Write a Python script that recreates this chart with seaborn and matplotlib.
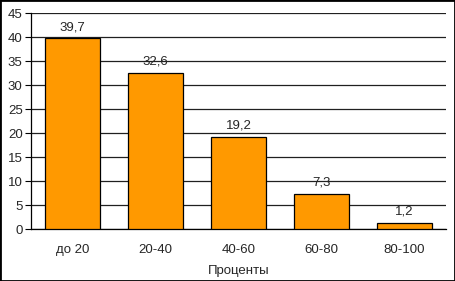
import matplotlib
matplotlib.use("Agg")
import matplotlib.pyplot as plt
import seaborn as sns
import pandas as pd
import numpy as np
from matplotlib.patches import Rectangle

categories = ["до 20", "20-40", "40-60", "60-80", "80-100"]
values = [39.7, 32.6, 19.2, 7.3, 1.2]
labels = ["39,7", "32,6", "19,2", "7,3", "1,2"]
yticks = [0, 5, 10, 15, 20, 25, 30, 35, 40, 45]

sns.set_style("white")
plt.rcParams['font.family'] = ['Liberation Sans', 'DejaVu Sans']

df = pd.DataFrame({"cat": categories, "val": values})

fig = plt.figure(figsize=(4.55, 2.81), dpi=100)
ax = fig.add_axes([31/455, 52/281, 415/455, 216/281])
sns.barplot(data=df, x="cat", y="val", color="#FF9900", edgecolor="black",
            linewidth=0.9, width=0.67, saturation=1, ax=ax, zorder=3)

ax.set_ylim(0, 45)
ax.set_xlim(-0.5, 4.5)
ax.set_yticks(yticks)
ax.set_yticklabels([str(t) for t in yticks], fontsize=9.5)
ax.yaxis.grid(True, color="#202020", linewidth=0.9, zorder=0)
ax.set_axisbelow(True)
ax.set_xticks(range(5))
ax.set_xticklabels(categories, fontsize=9.5)
ax.tick_params(axis="x", which="major", length=0, pad=11)
ax.set_xticks(np.arange(-0.5, 5, 1), minor=True)
ax.tick_params(axis="x", which="minor", length=4, direction="out", color="black")
ax.tick_params(axis="y", length=4, direction="out", color="black", left=True, pad=2)
ax.set_xlabel("Проценты", fontsize=9.5, labelpad=6)
ax.set_ylabel("")
for s in ["top", "right"]:
    ax.spines[s].set_visible(False)
for s in ["left", "bottom"]:
    ax.spines[s].set_color("black")
    ax.spines[s].set_linewidth(0.9)

for i, (v, l) in enumerate(zip(values, labels)):
    ax.text(i, v + 1.1, l, ha="center", va="bottom", fontsize=9.5, zorder=4)

fig.patches.append(Rectangle((0, 0), 1, 1, transform=fig.transFigure,
                             fill=False, edgecolor="black", linewidth=2))

fig.savefig("out.png", dpi=100)
